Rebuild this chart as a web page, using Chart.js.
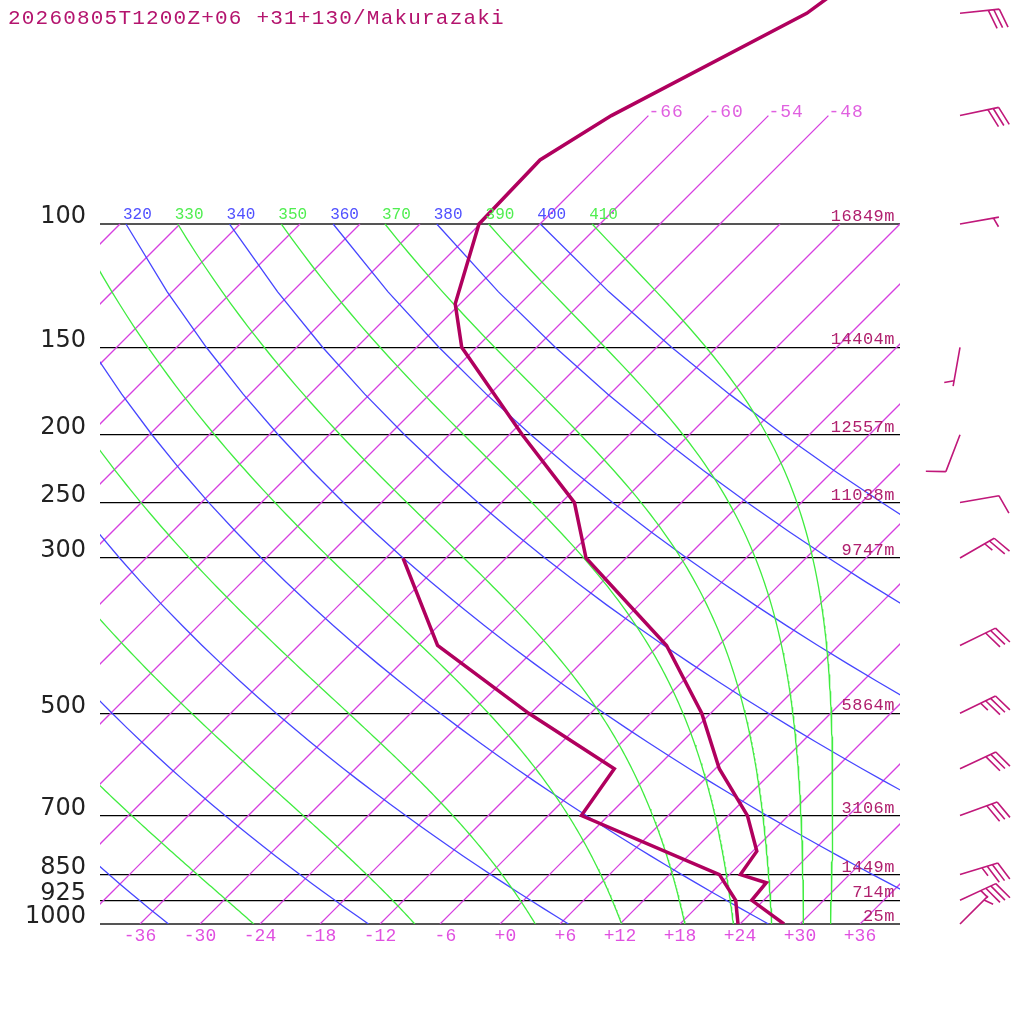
<!DOCTYPE html>
<html>
<head>
<meta charset="utf-8">
<script src="https://cdn.jsdelivr.net/npm/chart.js@4.4.1/dist/chart.umd.min.js"></script>
<style>
  html, body { margin: 0; padding: 0; background: #fff; }
  canvas { display: block; }
</style>
</head>
<body>
<canvas id="skewt" width="1024" height="1024"></canvas>
<script>
const title = '20260805T1200Z+06 +31+130/Makurazaki';

// pressure levels drawn as horizontal lines, with the station heights
const pressureLevels = [100, 150, 200, 250, 300, 500, 700, 850, 925, 1000];
const levelHeights = ['16849m', '14404m', '12557m', '11038m', '9747m', '5864m', '3106m', '1449m', '714m', '25m'];
const tempTicks = [-36, -30, -24, -18, -12, -6, 0, 6, 12, 18, 24, 30, 36];

// sounding
const tempP = [1000, 925, 873, 850, 787, 700, 600, 500, 400, 300, 250, 200, 150, 130, 100, 81, 70, 50, 40];
const tempC = [28.4, 22.8, 22.5, 19.1, 18.4, 13.9, 6.4, -0.9, -11.2, -28.0, -34.7, -46.7, -61.5, -66.5, -72.1, -72.4, -69.7, -60.4, -57.9];
const dewP = [1000, 925, 850, 700, 600, 500, 400, 300];
const dewC = [23.8, 21.2, 17.0, -2.7, -4.1, -18.2, -34.1, -46.3];

// wind (direction deg, speed kt)
const windP = [50, 70, 100, 150, 200, 250, 300, 400, 500, 600, 700, 850, 925, 1000];
const windDir = [84, 78, 80, 190, 201, 80, 60, 64, 64, 65, 70, 73, 65, 45];
const windKt = [30, 30, 5, 5, 10, 10, 25, 30, 35, 30, 30, 35, 35, 5];

// background lines
const isotherms = [-108, -102, -96, -90, -84, -78, -72, -66, -60, -54, -48, -42, -36, -30, -24, -18, -12, -6, 0, 6, 12, 18, 24, 30, 36];
const stratIsotherms = [-66, -60, -54, -48];
const dryThetas = [240, 260, 280, 300, 320, 340, 360, 380, 400];
const moistThetas = [250, 270, 290, 310, 330, 350, 370, 390, 410];

const KAPPA = 0.2857;
const SKEW = 30.4;
const pTop = 1000 * Math.exp(-924 / 304);

const ISO_COL = 'rgb(214, 64, 224)';
const DRY_COL = 'rgb(70, 70, 255)';
const MOIST_COL = 'rgb(64, 236, 64)';
const PROF_COL = 'rgb(176, 0, 94)';

function skewX(tc, p) {
  return tc + SKEW * Math.log(1000 / p);
}

function satMix(p, tK) {
  const tc = tK - 273.15;
  const es = 6.112 * Math.exp(17.67 * tc / (tc + 243.5));
  return 0.622 * es / (p - es);
}

function moistLapse(p, tK) {
  const rs = satMix(p, tK);
  const Rd = 287.04, Cp = 1005.7, Lv = 2.501e6, eps = 0.622;
  return (Rd * tK + Lv * rs) / (Cp + Lv * Lv * rs * eps / (Rd * tK * tK)) / p;
}

function moistLine(theta) {
  let p = 100;
  let t = theta * Math.pow(p / 1000, KAPPA);
  const pts = [{ x: skewX(t - 273.15, p), y: p }];
  const dp = 5;
  while (p < 1000) {
    const k1 = moistLapse(p, t);
    const k2 = moistLapse(p + dp / 2, t + dp / 2 * k1);
    const k3 = moistLapse(p + dp / 2, t + dp / 2 * k2);
    const k4 = moistLapse(p + dp, t + dp * k3);
    t += dp / 6 * (k1 + 2 * k2 + 2 * k3 + k4);
    p += dp;
    pts.push({ x: skewX(t - 273.15, p), y: p });
  }
  return pts;
}

function dryLine(theta) {
  const pts = [];
  for (let p = 1000; p >= 100; p -= 25) {
    pts.push({ x: skewX(theta * Math.pow(p / 1000, KAPPA) - 273.15, p), y: p });
  }
  return pts;
}

function isoLine(t) {
  const top = stratIsotherms.includes(t) ? 70 : 100;
  const pts = [];
  for (let p = 1000; p > top; p -= 50) pts.push({ x: skewX(t, p), y: p });
  pts.push({ x: skewX(t, top), y: top });
  return pts;
}

function lineSet(data, color, width) {
  return { data: data, showLine: true, borderColor: color, backgroundColor: color,
           borderWidth: width, pointRadius: 0, tension: 0, fill: false };
}

const datasets = [];
datasets.push(lineSet(tempP.map((p, i) => ({ x: skewX(tempC[i], p), y: p })), PROF_COL, 3.5));
datasets.push(lineSet(dewP.map((p, i) => ({ x: skewX(dewC[i], p), y: p })), PROF_COL, 3.5));
moistThetas.forEach(th => datasets.push(lineSet(moistLine(th), MOIST_COL, 1.3)));
dryThetas.forEach(th => datasets.push(lineSet(dryLine(th), DRY_COL, 1.3)));
isotherms.forEach(t => datasets.push(lineSet(isoLine(t), ISO_COL, 1.3)));

function fmtTemp(v) {
  const s = (v < 0 ? '-' : '+') + Math.abs(v);
  return s.length < 3 ? ' ' + s : s;
}

function drawBarb(ctx, x, y, dir, kt) {
  const L = 39.5, full = 20, half = 10, gap = 5.5;
  const r = dir * Math.PI / 180;
  const ux = Math.sin(r), uy = -Math.cos(r);
  const tx = x + ux * L, ty = y + uy * L;
  const a = Math.atan2(uy, ux) + 70 * Math.PI / 180;
  const fx = Math.cos(a), fy = Math.sin(a);
  ctx.beginPath();
  ctx.moveTo(x, y);
  ctx.lineTo(tx, ty);
  const n = Math.round(kt / 5);
  const fulls = Math.floor(n / 2), halfs = n % 2;
  let pos = (fulls === 0 && halfs) ? 1 : 0;
  for (let i = 0; i < fulls; i++, pos++) {
    const sx = tx - ux * gap * pos, sy = ty - uy * gap * pos;
    ctx.moveTo(sx, sy);
    ctx.lineTo(sx + fx * full, sy + fy * full);
  }
  if (halfs) {
    const sx = tx - ux * gap * pos, sy = ty - uy * gap * pos;
    ctx.moveTo(sx, sy);
    ctx.lineTo(sx + fx * half, sy + fy * half);
  }
  ctx.stroke();
}

const overlay = {
  id: 'overlay',
  afterDatasetsDraw(chart) {
    const ctx = chart.ctx;
    const xs = chart.scales.x, ys = chart.scales.y;
    const area = chart.chartArea;
    ctx.save();

    // theta labels along 100 hPa
    ctx.save();
    ctx.beginPath();
    ctx.rect(area.left, 0, area.right - area.left, area.bottom);
    ctx.clip();
    ctx.font = '16px "Liberation Mono"';
    ctx.textAlign = 'left';
    ctx.textBaseline = 'alphabetic';
    const y100 = ys.getPixelForValue(100);
    dryThetas.forEach(th => {
      const x = xs.getPixelForValue(skewX(th * Math.pow(0.1, KAPPA) - 273.15, 100));
      ctx.fillStyle = '#5050ff';
      ctx.fillText(String(th), x - 3, y100 - 5);
    });
    moistThetas.forEach(th => {
      const x = xs.getPixelForValue(skewX(th * Math.pow(0.1, KAPPA) - 273.15, 100));
      ctx.fillStyle = '#50ee50';
      ctx.fillText(String(th), x - 3, y100 - 5);
    });
    ctx.restore();

    ctx.textBaseline = 'alphabetic';

    // isotherm labels above 100 hPa
    ctx.font = '18px "Liberation Mono"';
    ctx.letterSpacing = '1px';
    ctx.fillStyle = '#e060e0';
    ctx.textAlign = 'left';
    stratIsotherms.forEach(t => {
      ctx.fillText(fmtTemp(t), xs.getPixelForValue(skewX(t, 70)), ys.getPixelForValue(70) + 1);
    });

    // station heights
    ctx.font = '17px "Liberation Mono"';
    ctx.letterSpacing = '0.5px';
    ctx.fillStyle = '#b0206e';
    ctx.textAlign = 'right';
    pressureLevels.forEach((p, i) => {
      ctx.fillText(levelHeights[i], area.right - 5, ys.getPixelForValue(p) - 3);
    });

    // title
    ctx.font = '21px "Liberation Mono"';
    ctx.letterSpacing = '1.2px';
    ctx.fillStyle = '#b4146e';
    ctx.textAlign = 'left';
    ctx.fillText(title, 8, 24);
    ctx.letterSpacing = '0px';

    // wind barbs
    ctx.strokeStyle = '#c0187a';
    ctx.lineWidth = 1.6;
    windP.forEach((p, i) => {
      drawBarb(ctx, 960, ys.getPixelForValue(p), windDir[i], windKt[i]);
    });
    ctx.restore();
  }
};

new Chart(document.getElementById('skewt'), {
  type: 'scatter',
  data: { datasets: datasets },
  options: {
    responsive: false,
    animation: false,
    devicePixelRatio: 1,
    layout: { padding: { left: 0, right: 124, top: 0, bottom: 0 } },
    plugins: { legend: { display: false }, tooltip: { enabled: false } },
    scales: {
      x: {
        type: 'linear', min: -40, max: 40, position: 'bottom',
        afterFit: s => { s.height = 100; s.paddingLeft = 0; s.paddingRight = 0; },
        afterBuildTicks: s => { s.ticks = tempTicks.map(v => ({ value: v })); },
        grid: { display: false, drawTicks: false },
        border: { display: false },
        ticks: {
          autoSkip: false, maxRotation: 0, padding: 1,
          color: '#e050e0',
          font: { family: 'Liberation Mono', size: 18 },
          callback: v => fmtTemp(v)
        }
      },
      y: {
        type: 'logarithmic', reverse: true, min: pTop, max: 1000, position: 'left',
        afterFit: s => { s.width = 100; s.paddingTop = 0; s.paddingBottom = 0; },
        afterBuildTicks: s => { s.ticks = pressureLevels.map(v => ({ value: v })); },
        grid: {
          drawTicks: false,
          color: c => (c.tick && (c.tick.value === 100 || c.tick.value === 1000)) ? '#555' : '#000',
          lineWidth: c => (c.tick && (c.tick.value === 100 || c.tick.value === 1000)) ? 2 : 1.2
        },
        border: { display: false },
        ticks: {
          autoSkip: false, padding: 14, labelOffset: -7,
          color: '#222',
          font: { family: 'DejaVu Sans', size: 24 },
          callback: v => String(v)
        }
      }
    }
  },
  plugins: [overlay]
});
</script>
</body>
</html>
